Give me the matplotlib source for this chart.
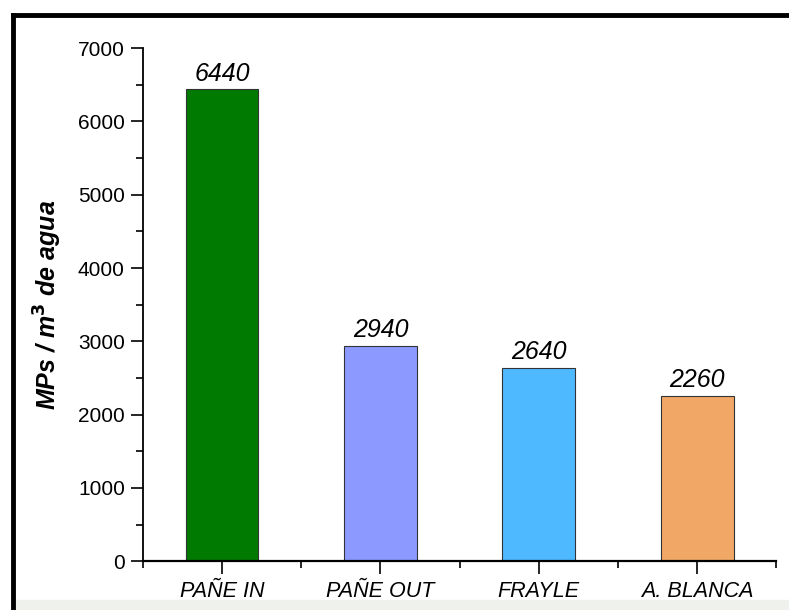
import matplotlib.pyplot as plt
from matplotlib.lines import Line2D
from matplotlib.patches import Rectangle
from matplotlib.ticker import MultipleLocator

plt.rcParams['font.family'] = ['Liberation Sans', 'DejaVu Sans']

# Data
sites = ['PAÑE IN', 'PAÑE OUT', 'FRAYLE', 'A. BLANCA']
mps = [6440, 2940, 2640, 2260]
colors = ['#007A00', '#8C9AFF', '#4FB9FF', '#F1A866']

fig = plt.figure(figsize=(7.89, 6.10), dpi=100)
ax = fig.add_axes([0.181, 0.080, 0.803, 0.841])

pos = list(range(1, len(sites) + 1))
bars = ax.bar(pos, mps, width=0.46, color=colors, edgecolor='#333333', linewidth=0.8)

for p, v in zip(pos, mps):
    ax.text(p, v + 50, str(v), ha='center', va='bottom', fontsize=18, style='italic')

ax.set_xlim(0.5, 4.5)
ax.set_ylim(0, 7000)
ax.set_xticks(pos)
ax.set_xticklabels(sites, fontsize=15.5, style='italic')
ax.xaxis.set_minor_locator(MultipleLocator(1, offset=0.5))
ax.yaxis.set_major_locator(MultipleLocator(1000))
ax.yaxis.set_minor_locator(MultipleLocator(500))
ax.tick_params(axis='y', labelsize=15, length=9, width=1.2, pad=4)
ax.tick_params(axis='x', length=9, width=1.2, pad=5)
ax.tick_params(which='minor', length=5, width=1.2)

ax.spines['top'].set_visible(False)
ax.spines['right'].set_visible(False)
ax.spines['left'].set_linewidth(1.3)
ax.spines['bottom'].set_linewidth(1.6)

ax.set_ylabel('MPs / m$^\\mathbf{3}$ de agua', fontsize=18, fontweight='bold', style='italic', labelpad=10)

# outer frame (top and left) and faded band at the bottom
fig.add_artist(Line2D([0.017, 1.0], [0.975, 0.975], color='black', linewidth=3.5))
fig.add_artist(Line2D([0.017, 0.017], [0.0, 0.975], color='black', linewidth=3.5))
fig.add_artist(Rectangle((0.02, 0.0), 0.98, 0.016, color='#eef1ec', zorder=-1))

fig.savefig('out.png', dpi=100)
